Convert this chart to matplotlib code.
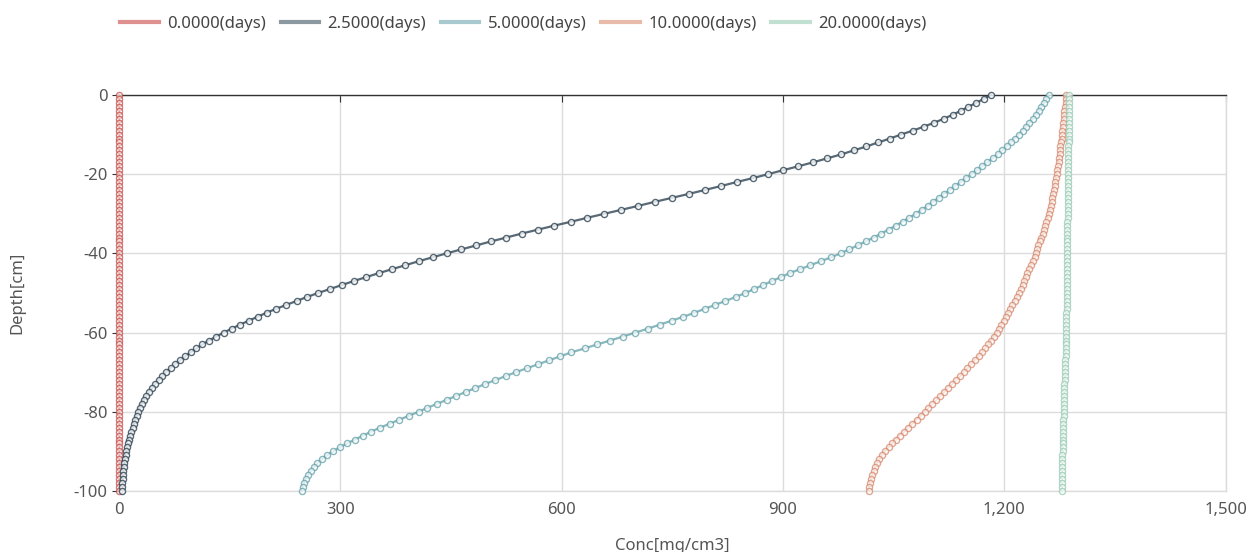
import numpy as np
import matplotlib
matplotlib.use('Agg')
import matplotlib.pyplot as plt
from matplotlib.ticker import FuncFormatter

plt.rcParams['font.family'] = ['Noto Sans', 'DejaVu Sans']
plt.rcParams['axes.unicode_minus'] = False

# Profundidad (cm) y concentraciones
depth = np.arange(0, -101, -1)

conc_0d = [0.0] * 101

conc_2_5d = [
    1182, 1172, 1162, 1151, 1141, 1130, 1118, 1105, 1091, 1076, 1060,
    1045, 1029, 1013, 996, 979, 960, 941, 921, 900, 880,
    859, 837, 816, 794, 772, 749, 726, 704, 681, 658,
    635, 613, 590, 568, 546, 525, 504, 484, 464, 444,
    425, 406, 388, 370, 352, 335, 318, 302, 286, 270,
    255, 241, 227, 213, 200, 188, 176, 164, 153, 142,
    132, 122, 113, 105, 97, 90, 83, 76, 70, 64,
    59, 54, 49, 45, 41, 37, 34, 31, 28, 26,
    24, 22, 20, 18.5, 17, 15.5, 14, 12.5, 11, 10,
    9, 8.2, 7.4, 6.7, 6, 5.5, 5, 4.6, 4.3, 4,
]

conc_5d = [
    1260, 1257, 1254, 1250, 1247, 1243, 1239, 1234, 1230, 1225, 1220,
    1214, 1209, 1203, 1197, 1191, 1184, 1177, 1170, 1163, 1156,
    1148, 1141, 1133, 1126, 1118, 1111, 1103, 1096, 1088, 1080,
    1071, 1062, 1053, 1043, 1033, 1023, 1012, 1001, 990, 978,
    965, 951, 937, 923, 909, 897, 885, 873, 861, 849,
    836, 822, 808, 794, 780, 765, 749, 733, 717, 700,
    683, 666, 648, 631, 613, 598, 583, 568, 553, 538,
    524, 510, 496, 483, 470, 457, 444, 431, 418, 406,
    393, 380, 367, 354, 342, 331, 320, 309, 299, 290,
    282, 275, 269, 264, 260, 256, 253, 251, 249, 248,
]

conc_10d = [
    1284, 1283.5, 1283, 1282, 1281.5, 1281, 1280.5, 1280, 1279, 1278.5, 1278,
    1277.5, 1277, 1276, 1275.5, 1275, 1274, 1273.5, 1273, 1272, 1271,
    1270, 1269, 1268, 1267, 1266, 1265, 1264, 1263, 1261.5, 1260,
    1258.5, 1257, 1255.5, 1254, 1252, 1250, 1248, 1246, 1244.5, 1243,
    1241, 1238.5, 1236, 1233.5, 1231, 1229, 1227, 1225, 1222.5, 1220,
    1217, 1214, 1211, 1208, 1205, 1202, 1199, 1196, 1193, 1190,
    1186, 1182, 1178, 1174, 1170, 1165, 1160, 1155, 1150, 1145,
    1140, 1134.5, 1129, 1123.5, 1118, 1113, 1108, 1102.5, 1097, 1092,
    1086.5, 1081, 1075, 1069.5, 1064, 1058.5, 1053, 1048, 1043, 1038,
    1034, 1030.5, 1027.5, 1025, 1023, 1021, 1019.5, 1018, 1017, 1016,
]

conc_20d = [
    1287, 1287, 1287, 1287, 1287, 1287, 1287, 1287, 1287, 1287, 1287,
    1287, 1287, 1286.5, 1286.5, 1286.5, 1286.5, 1286.5, 1286.5, 1286, 1286,
    1286, 1286, 1286, 1286, 1286, 1286, 1286, 1286, 1286, 1286,
    1286, 1285.5, 1285.5, 1285.5, 1285.5, 1285.5, 1285.5, 1285.5, 1285, 1285,
    1285, 1285, 1285, 1285, 1285, 1285, 1285, 1284.5, 1284.5, 1284.5,
    1284.5, 1284.5, 1284.5, 1284.5, 1284, 1284, 1284, 1284, 1284, 1284,
    1283.5, 1283.5, 1283.5, 1283, 1283, 1283, 1282.5, 1282.5, 1282.5, 1282,
    1282, 1282, 1281.5, 1281.5, 1281.5, 1281, 1281, 1281, 1280.5, 1280.5,
    1280.5, 1280, 1280, 1280, 1279.5, 1279.5, 1279.5, 1279, 1279, 1279,
    1278.5, 1278.5, 1278.5, 1278.5, 1278, 1278, 1278, 1278, 1278, 1278,
]

series_labels = ['0.0000(days)', '2.5000(days)', '5.0000(days)', '10.0000(days)', '20.0000(days)']
series_data = [conc_0d, conc_2_5d, conc_5d, conc_10d, conc_20d]
colors = ['#c23531', '#2f4554', '#61a0a8', '#d48265', '#91c7ae']
marker_alpha = [0.65, 0.8, 0.75, 0.7, 0.7]

x_ticks = [0, 300, 600, 900, 1200, 1500]
y_ticks = [0, -20, -40, -60, -80, -100]

fig = plt.figure(figsize=(12.52, 5.52), dpi=100)
ax = fig.add_axes([0.095, 0.1105, 0.884, 0.7175])

for vals, col, a in zip(series_data, colors, marker_alpha):
    ax.plot(vals, depth, color=col, lw=1.6, alpha=a, clip_on=False, zorder=3)
    ax.plot(vals, depth, ls='none', marker='o', ms=4.4, mfc='white',
            mec=col, mew=1.0, alpha=a, clip_on=False, zorder=4)

ax.set_xlim(0, 1500)
ax.set_ylim(-100, 0)
ax.set_xticks(x_ticks)
ax.set_yticks(y_ticks)
ax.xaxis.set_major_formatter(FuncFormatter(lambda v, p: f"{v:,.0f}"))

ax.grid(True, color='#dcdcdc', lw=1.0, zorder=0)
ax.set_axisbelow(True)

for s in ['right', 'bottom']:
    ax.spines[s].set_color('#dcdcdc')
    ax.spines[s].set_linewidth(1.0)
ax.spines['top'].set_color('#333333')
ax.spines['top'].set_linewidth(1.0)
ax.spines['left'].set_color('#333333')
ax.spines['left'].set_linewidth(1.0)

ax.tick_params(axis='x', which='both', bottom=False, top=True, direction='in',
               length=5, color='#333333', labelsize=12, labelcolor='#555555', pad=8)
ax.tick_params(axis='y', direction='out', length=5, color='#333333',
               labelsize=12, labelcolor='#555555', pad=3)

ax.set_xlabel('Conc[mg/cm3]', fontsize=12, color='#555555', labelpad=14)
ax.set_ylabel('Depth[cm]', fontsize=12, color='#555555', labelpad=35)

handles = [plt.Line2D([], [], color=c, lw=3, alpha=0.55) for c in colors]
fig.legend(handles, series_labels, loc='upper center', bbox_to_anchor=(0.418, 0.999),
           ncol=5, frameon=False, fontsize=12, labelcolor='#444444',
           handlelength=2.3, handletextpad=0.5, columnspacing=0.9)

fig.savefig('out.png', dpi=100)
